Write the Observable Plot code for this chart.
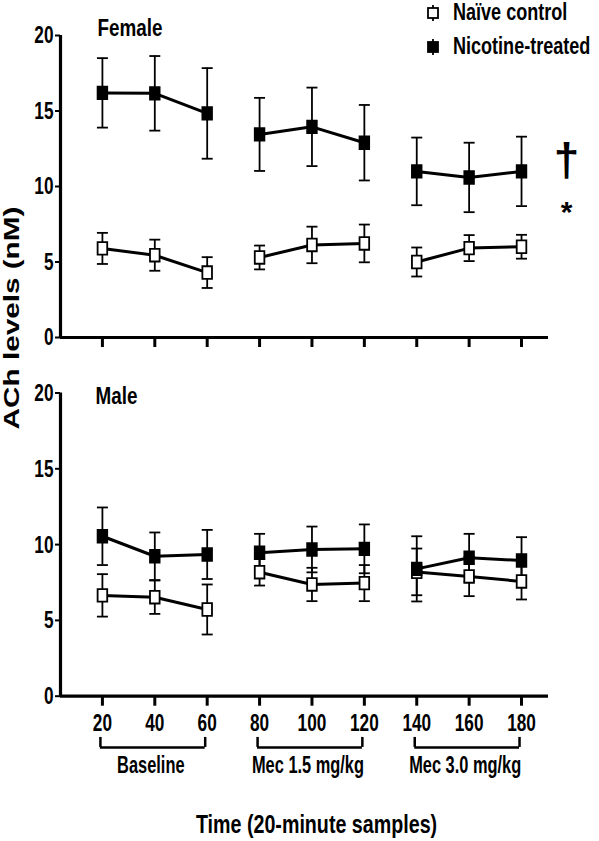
<!DOCTYPE html>
<html>
<head>
<meta charset="utf-8">
<script src="https://cdn.jsdelivr.net/npm/d3@7"></script>
<script src="https://cdn.jsdelivr.net/npm/@observablehq/plot@0.6"></script>
<style>
  html, body { margin: 0; padding: 0; background: #fff; }
  #root { position: relative; width: 599px; height: 841px; overflow: hidden; font-family: "Liberation Sans", Arial, sans-serif; font-weight: bold; color: #000; }
  #top, #bottom { position: absolute; left: 0; }
  #top { top: 0; }
  #bottom { top: 355px; }
  #ylabel { position: absolute; left: 12px; top: 318px; white-space: nowrap; font-family: "Liberation Sans", Arial, sans-serif; font-weight: bold; font-size: 22px; line-height: 0.9; transform: translate(-50%, -50%) rotate(-90deg) scaleX(1.35); }
  .leg { position: absolute; left: 426px; height: 22px; display: flex; align-items: center; font-size: 22px; white-space: nowrap; }
  .leg svg { margin-right: 13px; flex: none; }
  .leg span { display: inline-block; transform: scale(0.82, 1.05); transform-origin: 0 50%; }
</style>
</head>
<body>
<div id="root">
  <div id="top"></div>
  <div id="bottom"></div>
  <div id="ylabel">ACh levels (nM)</div>
  <div id="legend"></div>
</div>
<script>
// ---- data ----
const times = [20, 40, 60, 80, 100, 120, 140, 160, 180];
const phaseOf = [0, 0, 0, 1, 1, 1, 2, 2, 2];
const groupLabels = ["Baseline", "Mec 1.5 mg/kg", "Mec 3.0 mg/kg"];
const groupStart = [20, 80, 140];
const groupEnd = [60, 120, 180];
const seriesNames = ["Naïve control", "Nicotine-treated"];
const panelNames = ["Female", "Male"];

const femaleNaiveMean = [5.9, 5.45, 4.3, 5.3, 6.13, 6.23, 5.0, 5.92, 6.01];
const femaleNaiveSem  = [1.03, 1.03, 1.02, 0.79, 1.21, 1.25, 0.96, 0.86, 0.79];
const femaleNicMean   = [16.2, 16.17, 14.84, 13.45, 13.95, 12.9, 11.0, 10.6, 11.0];
const femaleNicSem    = [2.3, 2.47, 3.0, 2.42, 2.6, 2.5, 2.24, 2.3, 2.3];

const maleNaiveMean = [6.65, 6.53, 5.72, 8.18, 7.37, 7.46, 8.2, 7.9, 7.57];
const maleNaiveSem  = [1.4, 1.1, 1.65, 0.88, 1.1, 1.19, 1.54, 1.3, 1.19];
const maleNicMean   = [10.55, 9.23, 9.35, 9.46, 9.68, 9.72, 8.4, 9.13, 8.95];
const maleNicSem    = [1.9, 1.57, 1.62, 1.25, 1.51, 1.61, 2.15, 1.58, 1.54];

const yTicks = [0, 5, 10, 15, 20];
const xTicks = times;
const xDomain = [4, 190.3];
const yDomain = [0, 20];
const xTitle = "Time (20-minute samples)";
const sigSymbols = ["†", "*"];
const sigY = [11.7, 8.3];

// ---- build tables ----
function buildRows(panel, naiveMean, naiveSem, nicMean, nicSem) {
  const rows = [];
  times.forEach((t, i) => {
    rows.push({panel, series: seriesNames[0], time: t, phase: phaseOf[i], mean: naiveMean[i], sem: naiveSem[i]});
    rows.push({panel, series: seriesNames[1], time: t, phase: phaseOf[i], mean: nicMean[i], sem: nicSem[i]});
  });
  return rows;
}
const femaleRows = buildRows("Female", femaleNaiveMean, femaleNaiveSem, femaleNicMean, femaleNicSem);
const maleRows = buildRows("Male", maleNaiveMean, maleNaiveSem, maleNicMean, maleNicSem);
const groups = groupLabels.map((label, i) => ({label, start: groupStart[i], end: groupEnd[i]}));

// ---- symbols ----
const boxSymbol = { draw(ctx) { ctx.rect(-4.8, -6.3, 9.6, 12.6); } };
const capSymbol = { draw(ctx) { ctx.moveTo(-5.5, 0); ctx.lineTo(5.5, 0); } };

const FONT = '"Liberation Sans", Arial, sans-serif';

function dataMarks(rows) {
  const naive = rows.filter(r => r.series === seriesNames[0]);
  const nic = rows.filter(r => r.series === seriesNames[1]);
  const errMarks = d => [
    Plot.ruleX(d, {x: "time", y1: r => r.mean - r.sem, y2: r => r.mean + r.sem, stroke: "black", strokeWidth: 1.8}),
    Plot.dot(d, {x: "time", y: r => r.mean - r.sem, symbol: capSymbol, r: 5, fill: "none", stroke: "black", strokeWidth: 1.8}),
    Plot.dot(d, {x: "time", y: r => r.mean + r.sem, symbol: capSymbol, r: 5, fill: "none", stroke: "black", strokeWidth: 1.8})
  ];
  const lineMark = d => Plot.line(d, {x: "time", y: "mean", z: "phase", stroke: "black", strokeWidth: 3});
  return [
    ...errMarks(naive),
    ...errMarks(nic),
    lineMark(naive),
    lineMark(nic),
    Plot.dot(naive, {x: "time", y: "mean", symbol: boxSymbol, r: 6, fill: "white", stroke: "black", strokeWidth: 1.8}),
    Plot.dot(nic, {x: "time", y: "mean", symbol: boxSymbol, r: 6, fill: "black", stroke: "black", strokeWidth: 1.8})
  ];
}

function frameMarks() {
  return [
    Plot.axisY({ticks: yTicks, tickSize: 5, tickPadding: 2, strokeWidth: 2, fontSize: 21, label: null}),
    Plot.ruleY([yDomain[0]], {stroke: "black", strokeWidth: 3.2}),
    Plot.ruleX([xDomain[0]], {stroke: "black", strokeWidth: 3.2})
  ];
}

const common = {
  width: 599,
  marginLeft: 60,
  marginRight: 51,
  x: {domain: xDomain},
  y: {domain: yDomain},
  style: {fontFamily: FONT, fontWeight: "bold", fontSize: "21px", color: "black", background: "white", overflow: "visible"}
};

const topPlot = Plot.plot({
  ...common,
  height: 355,
  marginTop: 35,
  marginBottom: 18,
  marks: [
    ...frameMarks(),
    Plot.axisX({ticks: xTicks, tickSize: 10, tickFormat: () => "", strokeWidth: 3, label: null}),
    Plot.text([panelNames[0]], {frameAnchor: "top-left", lineAnchor: "middle", dx: 37, dy: -7, textAnchor: "start", fontSize: 23}),
    ...dataMarks(femaleRows),
    Plot.text(sigSymbols, {y: (d, i) => sigY[i], frameAnchor: "right", lineAnchor: "middle", textAnchor: "middle", dx: 18, text: d => d,
      fontSize: (d, i) => i === 0 ? 46 : 30,
      fontFamily: (d, i) => i === 0 ? '"Liberation Serif", "DejaVu Serif", serif' : FONT,
      fontWeight: (d, i) => i === 0 ? "normal" : "bold"})
  ]
});

const bottomPlot = Plot.plot({
  ...common,
  height: 486,
  marginTop: 37.5,
  marginBottom: 145.3,
  marks: [
    ...frameMarks(),
    Plot.axisX({ticks: xTicks, tickSize: 10, tickPadding: 7, strokeWidth: 3, fontSize: 21, label: null}),
    Plot.text([panelNames[1]], {frameAnchor: "top-left", lineAnchor: "middle", dx: 35, dy: 3.5, textAnchor: "start", fontSize: 23}),
    ...dataMarks(maleRows),
    // treatment brackets
    Plot.ruleY(groups, {y: -3.38, x1: "start", x2: "end", stroke: "black", strokeWidth: 2.5, dx: -2}),
    Plot.ruleX(groups, {x: "start", y1: -2.72, y2: -3.38, stroke: "black", strokeWidth: 2.5, dx: -2}),
    Plot.ruleX(groups, {x: "end", y1: -2.72, y2: -3.38, stroke: "black", strokeWidth: 2.5, dx: -2}),
    Plot.text(groups, {x: d => (d.start + d.end) / 2, y: 0, dy: 69, dx: -4, text: "label", fontSize: 20}),
    Plot.text([xTitle], {frameAnchor: "bottom", lineAnchor: "middle", dy: 129, dx: 12, fontSize: 24})
  ]
});

// condense the bold sans text horizontally (and stretch it a little vertically,
// like the reference's narrow, tall lettering), keeping each anchor in place
function condense(svg, sx) {
  svg.querySelectorAll("text").forEach(t => {
    const s = t.textContent.trim();
    if (sigSymbols.includes(s)) return;
    let sy = 1;
    if (t.closest('[aria-label*="tick label"]')) sy = 1.18;
    else if (groupLabels.includes(s)) sy = 1.17;
    else if (s === xTitle) sy = 1.06;
    const xa = t.getAttribute("x");
    if (xa !== null && /^-?[\d.]+$/.test(xa.trim())) t.setAttribute("x", String(parseFloat(xa) / sx));
    const tr = t.getAttribute("transform") || "";
    t.setAttribute("transform", (tr + ` scale(${sx},${sy})`).trim());
  });
}
condense(topPlot, 0.82);
condense(bottomPlot, 0.82);

document.getElementById("top").appendChild(topPlot);
document.getElementById("bottom").appendChild(bottomPlot);

// ---- legend ----
const legend = document.getElementById("legend");
seriesNames.forEach((name, i) => {
  const row = document.createElement("div");
  row.className = "leg";
  row.style.top = (i === 0 ? 2 : 36) + "px";
  const fill = i === 0 ? "white" : "black";
  row.innerHTML = `<svg width="14" height="22" viewBox="0 0 14 22">
      <line x1="7" y1="3" x2="7" y2="19" stroke="black" stroke-width="1.8"/>
      <rect x="2" y="6" width="10" height="10" fill="${fill}" stroke="black" stroke-width="1.8"/>
    </svg><span>${name}</span>`;
  legend.appendChild(row);
});
</script>
</body>
</html>
